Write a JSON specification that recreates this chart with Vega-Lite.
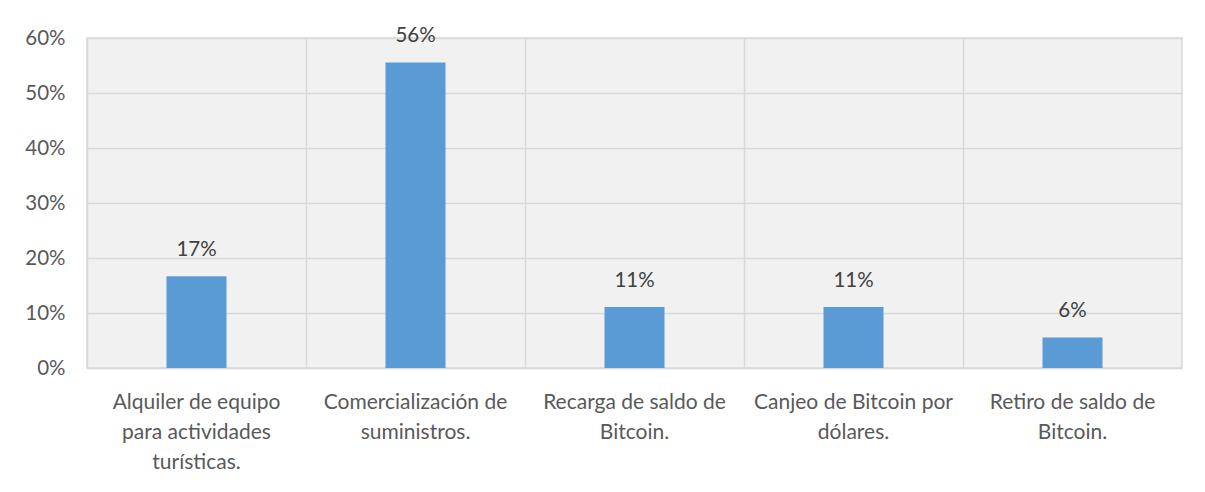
{
  "$schema": "https://vega.github.io/schema/vega-lite/v6.json",
  "width": 1095,
  "height": 330,
  "autosize": "none",
  "padding": {"left": 87, "top": 38, "right": 23, "bottom": 124},
  "background": "white",
  "config": {
    "font": "Lato",
    "view": {"stroke": "#D9D9D9", "strokeWidth": 1.5, "fill": "#F1F1F1"}
  },
  "data": {
    "values": [
      {"cat": "Alquiler de equipo\npara actividades\nturísticas.", "v": 0.1667},
      {"cat": "Comercialización de\nsuministros.", "v": 0.5556},
      {"cat": "Recarga de saldo de\nBitcoin.", "v": 0.1111},
      {"cat": "Canjeo de Bitcoin por\ndólares.", "v": 0.1111},
      {"cat": "Retiro de saldo de\nBitcoin.", "v": 0.0556}
    ]
  },
  "layer": [
    {
      "mark": {"type": "bar", "width": 60, "color": "#5B9BD5"},
      "encoding": {
        "x": {
          "field": "cat", "type": "nominal", "sort": null,
          "scale": {"paddingInner": 0, "paddingOuter": 0},
          "axis": {"orient": "bottom", "grid": true, "bandPosition": 0, "labels": false, "ticks": false, "domain": false, "gridColor": "#D9D9D9", "gridWidth": 1.5, "title": null}
        },
        "y": {
          "field": "v", "type": "quantitative",
          "scale": {"domain": [0, 0.6], "nice": false},
          "axis": {"values": [0, 0.1, 0.2, 0.3, 0.4, 0.5, 0.6], "format": ".0%", "title": null, "domain": false, "ticks": false, "gridColor": "#D9D9D9", "gridWidth": 1.5, "labelFontSize": 20.5, "labelColor": "#595959", "labelPadding": 22}
        }
      }
    },
    {
      "mark": {"type": "text", "baseline": "alphabetic", "dy": -20, "fontSize": 20.5, "color": "#404040"},
      "encoding": {
        "x": {
          "field": "cat", "type": "nominal", "sort": null,
          "axis": {"orient": "bottom", "grid": false, "ticks": false, "domain": false, "title": null, "labelAngle": 0, "labelFontSize": 21, "labelColor": "#595959", "labelPadding": 23, "labelLineHeight": 30, "labelLimit": 0, "labelExpr": "split(datum.label, '\\n')"}
        },
        "y": {"field": "v", "type": "quantitative"},
        "text": {"field": "v", "type": "quantitative", "format": ".0%"}
      }
    }
  ],
  "resolve": {"axis": {"x": "independent"}}
}
